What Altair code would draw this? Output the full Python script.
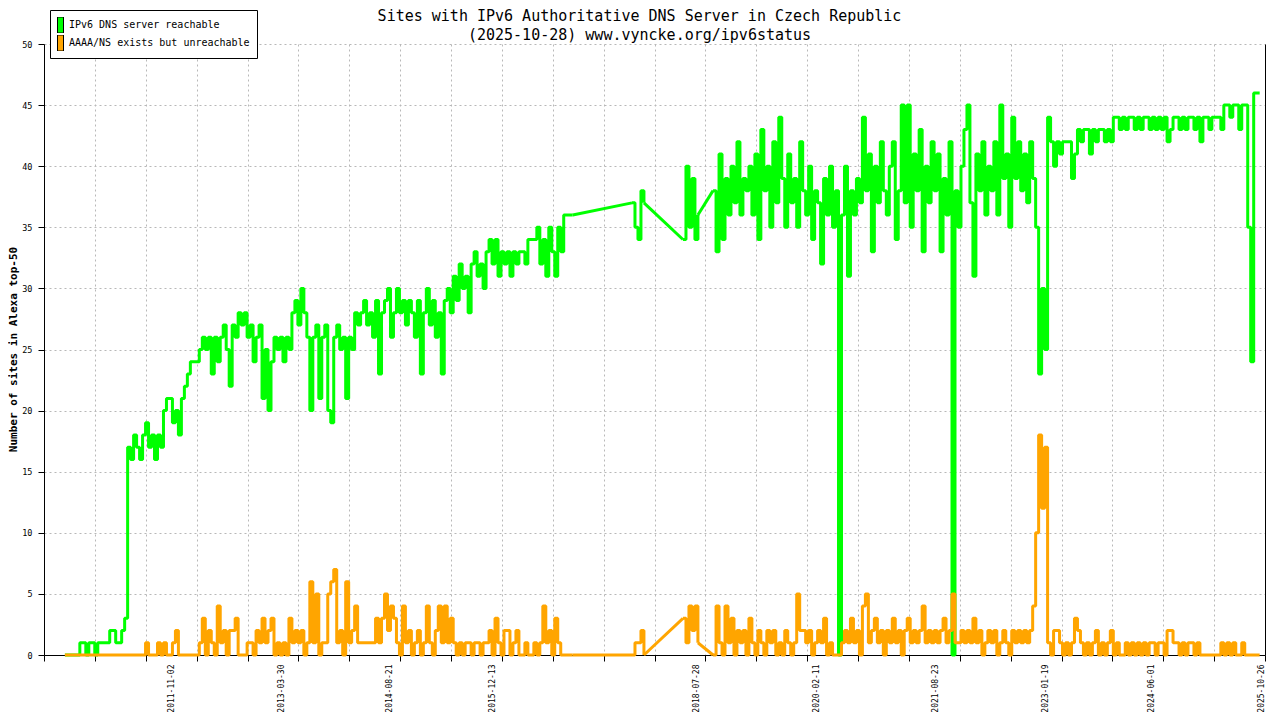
import altair as alt
import pandas as pd

MONO = "DejaVu Sans Mono"
GREEN = "#00ff00"
ORANGE = "#ffa500"
GRID = "#b8b8b8"

REACH = "IPv6 DNS server reachable"
UNREACH = "AAAA/NS exists but unreachable"

# samples every 14 days, four runs of data separated by gaps
STEP_DAYS = 14
block_starts = ["2010-06-20", "2017-09-29", "2018-05-26", "2018-10-14"]

reach_1 = [
    0, 0, 0, 0, 0, 1, 1, 0, 1, 1,
    0, 1, 1, 1, 1, 2, 2, 1, 1, 2,
    3, 17, 16, 18, 17, 16, 18, 19, 17, 18,
    16, 18, 17, 20, 21, 21, 19, 20, 18, 21,
    22, 23, 24, 24, 24, 25, 26, 25, 26, 23,
    26, 24, 26, 27, 25, 22, 27, 26, 28, 27,
    28, 26, 27, 24, 26, 27, 21, 25, 20, 24,
    26, 25, 26, 24, 26, 25, 28, 29, 27, 30,
    28, 26, 20, 26, 27, 21, 26, 27, 20, 19,
    26, 27, 25, 26, 21, 26, 25, 28, 27, 28,
    29, 27, 28, 26, 29, 23, 28, 29, 30, 26,
    28, 30, 28, 29, 27, 29, 28, 26, 29, 23,
    28, 30, 27, 29, 26, 28, 23, 29, 30, 28,
    31, 29, 32, 30, 31, 28, 32, 33, 31, 32,
    30, 33, 34, 32, 34, 31, 33, 32, 33, 31,
    33, 32, 33, 33, 32, 34, 34, 34, 35, 32,
    34, 31, 35, 33, 31, 35, 33, 36, 36, 36,
    36,
]
reach_2 = [37, 35, 34, 38, 37]
reach_3 = [34, 40, 35, 39, 34, 36]
reach_4 = [
    38, 33, 41, 34, 39, 36, 40, 37, 42, 36, 39, 38, 40, 36,
    41, 34, 43, 38, 40, 35, 42, 37, 44, 39, 35, 41,
    37, 39, 35, 42, 38, 36, 40, 34, 38, 37, 32, 39, 36, 40, 35, 38,
    0, 36,
    40, 31, 38, 36, 39, 37,
    44, 38, 41, 33, 40, 37, 42, 38, 36,
    40, 42, 34, 38, 45, 37, 45, 35, 41, 38, 43, 33, 40, 37, 42,
    38, 41, 33, 39, 36, 42, 0, 38, 35,
    40, 43, 45, 37, 31, 41, 38, 42, 36, 40,
    38, 42, 36, 45, 39, 41, 35,
    44, 39, 42, 38, 41, 37, 42, 39,
    35, 23, 30, 25, 44,
    42, 40, 42, 41, 42, 42, 42,
    39, 41,
    43, 42, 43, 43, 41, 43, 42, 43, 43, 42, 43, 42,
    44, 44, 43, 44, 43, 44, 44, 43, 44, 43, 44, 44, 43, 44, 43, 44, 43, 44,
    42, 43, 44, 44, 43, 44, 43, 44, 44, 43, 44, 42, 44, 44, 43, 44, 44, 44,
    43, 45, 45, 44, 45, 45, 43, 45, 45,
    35, 24, 46, 46, 46,
]

unreach_1 = [
    0, 0, 0, 0, 0, 0, 0, 0, 0, 0,
    0, 0, 0, 0, 0, 0, 0, 0, 0, 0,
    0, 0, 0, 0, 0, 0, 0, 1, 0, 0,
    0, 1, 0, 1, 0, 0, 1, 2, 0, 0,
    0, 0, 0, 0, 0, 1, 3, 0, 2, 1,
    0, 4, 1, 2, 0, 2, 2, 3, 0, 0,
    0, 1, 1, 0, 2, 1, 3, 1, 2, 3,
    0, 1, 0, 1, 0, 3, 1, 2, 1, 2,
    0, 1, 6, 1, 5, 0, 1, 1, 5, 6,
    7, 1, 2, 0, 6, 1, 2, 4, 1, 1,
    1, 1, 1, 1, 3, 1, 3, 5, 2, 4,
    3, 1, 0, 4, 1, 2, 0, 1, 2, 0,
    1, 4, 1, 0, 2, 4, 1, 4, 1, 3,
    1, 0, 1, 0, 1, 1, 0, 1, 1, 0,
    1, 1, 2, 0, 3, 1, 0, 2, 2, 0,
    1, 2, 0, 0, 1, 0, 0, 1, 0, 1,
    4, 1, 2, 0, 3, 1, 0, 0, 0, 0,
    0,
]
unreach_2 = [0, 1, 1, 2, 0]
unreach_3 = [3, 1, 4, 2, 4, 1]
unreach_4 = [
    0, 4, 1, 0, 4, 1, 3, 0, 2, 1, 2, 0, 3, 1,
    0, 2, 1, 0, 2, 1, 2, 0, 1, 0,
    2, 1, 0, 1, 5, 2, 2, 1, 2, 0,
    1, 2, 1, 3, 0, 1, 0, 0, 0, 1,
    2, 1, 3, 1, 2, 0, 4, 5, 1,
    2, 3, 1, 2, 0, 2, 1, 3, 1, 2, 0, 2, 3, 1, 2, 1, 2, 4, 1,
    2, 1, 2, 1, 2, 3, 1, 2, 5, 1, 1,
    2, 1, 2, 1, 3, 1, 2, 0, 1, 2, 1, 2, 0, 1, 2, 1, 0, 2, 1, 2, 1, 2, 1, 2, 4,
    10, 18, 12, 17, 1,
    0, 2, 2, 1, 0, 1, 0,
    1, 3, 2,
    1, 0, 1, 0, 1, 2, 0, 1, 0, 1, 2, 0, 1, 0, 0, 1, 0, 1, 0, 1, 0, 1, 0, 1, 1, 0, 1, 1, 0,
    2, 2,
    1, 1, 0, 1, 0, 1, 1, 0, 1, 0, 0, 0, 0,
    0, 0, 0,
    1, 0, 1, 0, 1, 0, 0, 1, 0,
    0, 0, 0, 0, 0,
]

reach_blocks = [reach_1, reach_2, reach_3, reach_4]
unreach_blocks = [unreach_1, unreach_2, unreach_3, unreach_4]

x_start, x_end = "2010-03-14", "2025-11-13"
label_dates = ["2011-11-02", "2013-03-30", "2014-08-21", "2015-12-13", "2018-07-28",
               "2020-02-11", "2021-08-23", "2023-01-19", "2024-06-01", "2025-10-26"]


def ms(day):
    return int(pd.Timestamp(day).value // 10**6)


rows = []
gaps = []
for name, blocks in [(REACH, reach_blocks), (UNREACH, unreach_blocks)]:
    prev = None
    for b, (start, vals) in enumerate(zip(block_starts, blocks)):
        days = pd.date_range(start, periods=len(vals), freq=f"{STEP_DAYS}D")
        for d, v in zip(days, vals):
            rows.append({"date": d.strftime("%Y-%m-%d"), "block": b, "series": name, "value": v})
        if prev is not None:
            gaps.append({"series": name, "date": prev[0], "value": prev[1],
                         "date2": days[0].strftime("%Y-%m-%d"), "value2": vals[0]})
        prev = (days[-1].strftime("%Y-%m-%d"), vals[-1])

df = pd.DataFrame(rows)
gap_df = pd.DataFrame(gaps)

tick_ms = [ms(t) for t in pd.date_range(x_start, x_end, periods=25)]
label_ms = [ms(d) for d in label_dates]

xscale = alt.Scale(domain=[ms(x_start), ms(x_end)], nice=False)
yscale = alt.Scale(domain=[0, 50], nice=False, zero=False)
cscale = alt.Scale(domain=[REACH, UNREACH], range=[GREEN, ORANGE])

tick_axis = alt.Axis(orient="bottom", values=tick_ms, labels=False, grid=True, gridDash=[2, 3],
                     gridColor=GRID, tickSize=6, tickColor="black", domainColor="black", title=None)
label_axis = alt.Axis(orient="bottom", values=label_ms, labelExpr="utcFormat(datum.value, '%Y-%m-%d')",
                      labelAngle=270, ticks=False, domain=False, grid=False, labelPadding=9,
                      labelFont=MONO, labelFontSize=8, labelColor="black", labelOverlap=False,
                      labelFlush=False, title=None)
left_axis = alt.Axis(values=list(range(0, 51, 5)), grid=True, gridDash=[2, 3], gridColor=GRID,
                     domainColor="black", tickColor="black", tickSize=6, labelPadding=6,
                     labelFont=MONO, labelFontSize=8.5, labelColor="black",
                     title="Number of sites in Alexa top-50", titleFont=MONO, titleFontSize=11,
                     titleFontWeight="bold", titleColor="black", titleX=-31, titleY=305,
                     titleAngle=270, titleBaseline="middle", titleAlign="center")
right_axis = alt.Axis(orient="right", labels=False, ticks=False, grid=False,
                      domainColor="black", title=None)

base = alt.Chart(df)

# legend only: an empty layer of filled swatches
legend_layer = base.transform_filter("false").mark_square(filled=True, opacity=1).encode(
    color=alt.Color("series:N", scale=cscale, legend=alt.Legend(
        title=None, orient="none", legendX=6, legendY=-34, direction="vertical",
        fillColor="white", strokeColor="black", padding=7, cornerRadius=0,
        symbolType="M-0.375,-1H0.375V1H-0.375Z", symbolSize=256,
        symbolStrokeColor="black", symbolStrokeWidth=1, symbolOpacity=1,
        symbolOffset=-5, labelOffset=0, rowPadding=2, clipHeight=16, labelLimit=400,
        labelFont=MONO, labelFontSize=10, labelColor="black",
    )),
)

green = base.transform_filter(alt.datum.series == REACH).mark_line(
    interpolate="step-after", color=GREEN, strokeWidth=3, strokeJoin="bevel"
).encode(
    x=alt.X("date:T", scale=xscale, axis=tick_axis),
    y=alt.Y("value:Q", scale=yscale, axis=left_axis),
    detail="block:N",
)


# straight joins across the missing periods
def joins(name, colour):
    return alt.Chart(gap_df).transform_filter(alt.datum.series == name).mark_rule(
        strokeWidth=3, color=colour
    ).encode(
        x=alt.X("date:T", scale=xscale, axis=None),
        x2="date2:T",
        y=alt.Y("value:Q", scale=yscale, axis=None),
        y2="value2:Q",
    )


orange = base.transform_filter(alt.datum.series == UNREACH).mark_line(
    interpolate="step-after", color=ORANGE, strokeWidth=3, strokeJoin="bevel"
).encode(
    x=alt.X("date:T", scale=xscale, axis=label_axis),
    y=alt.Y("value:Q", scale=yscale, axis=right_axis),
    detail="block:N",
)

# the title sits above the legend's bounds, hence the negative offset
chart = alt.layer(
    legend_layer, green, joins(REACH, GREEN), joins(UNREACH, ORANGE), orange
).resolve_axis(
    x="independent", y="independent"
).properties(
    width=1221,
    height=611,
    autosize=alt.AutoSizeParams(type="none"),
    padding={"left": 36, "top": 36, "right": 7, "bottom": 57},
    title=alt.TitleParams(
        text=["Sites with IPv6 Authoritative DNS Server in Czech Republic",
              "(2025-10-28) www.vyncke.org/ipv6status"],
        font=MONO, fontSize=15, fontWeight="normal", color="black",
        anchor="middle", dx=-15, offset=-33, lineHeight=19,
    ),
).configure(background="white").configure_view(stroke=None)

chart.save("out.html", embed_options={"renderer": "svg", "actions": False})
